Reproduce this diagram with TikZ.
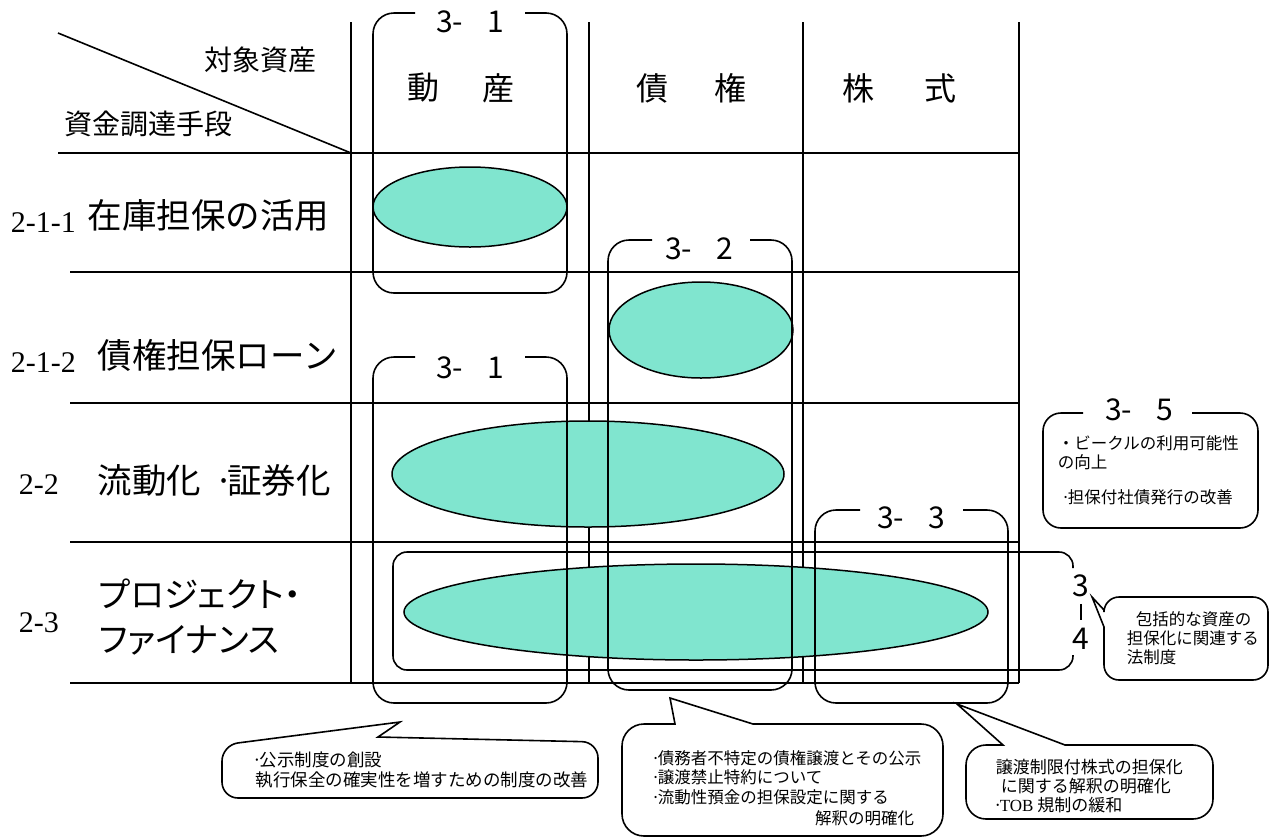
\documentclass[tikz,border=0pt]{standalone}
\usepackage{fontspec}
\setmainfont{Noto Sans CJK JP}
\newfontfamily\tms{Liberation Serif}
\newfontfamily\palt[RawFeature=+palt]{Noto Sans CJK JP}
\usetikzlibrary{shapes.geometric,calc}
\definecolor{tealfill}{RGB}{128,229,207}
\newcommand\bdot{\hbox to 4pt{\hss·\hss}}
\newcommand\tlab[2]{#1-\hspace{24pt}#2}
\begin{document}
\begin{tikzpicture}[x=1pt,y=-1pt,line width=1.6pt,
  gridline/.style={line width=1.6pt},
  blob/.style={ellipse,draw,fill=tealfill,inner sep=0pt,line width=1.5pt},
  brk/.style={rounded corners=21pt,line width=1.6pt},
  lbl/.style={font=\fontsize{30}{32}\selectfont,inner sep=0pt},
  rowlab/.style={font=\fontsize{34.5}{36}\selectfont,anchor=west,inner sep=0pt},
  numlab/.style={font=\tms\fontsize{30}{32}\selectfont,anchor=west,inner sep=0pt},
  colhead/.style={font=\fontsize{32}{34}\selectfont,inner sep=0pt},
  hdr/.style={font=\fontsize{28}{30}\selectfont,inner sep=0pt},
  note/.style={font=\fontsize{16.5}{20}\selectfont,anchor=west,inner sep=0pt},
  callout/.style={draw,fill=white,line width=1.6pt}
]
\useasboundingbox (0,0) rectangle (1273,839);

% grid
\draw[gridline] (58,33) -- (351,153);
\draw[gridline] (58,153) -- (1019,153);
\foreach \yy in {272,403,542,683} \draw[gridline] (70,\yy) -- (1019,\yy);
\foreach \xx in {351,589,803,1019} \draw[gridline] (\xx,22) -- (\xx,683);

% header texts
\node[hdr] (tgt) at (260,60) {対象資産};
\node[hdr] (mth) at (148,124) {資金調達手段};
\node[colhead] (c1a) at (423,88) {動};
\node[colhead] (c1b) at (498,88) {産};
\node[colhead] (c2a) at (652,88) {債};
\node[colhead] (c2b) at (730,88) {権};
\node[colhead] (c3a) at (858,88) {株};
\node[colhead] (c3b) at (940,88) {式};

% row labels
\node[numlab] (n211) at (10,223) {2-1-1};
\node[numlab] (n212) at (10,363) {2-1-2};
\node[numlab] (n22) at (18,485) {2-2};
\node[numlab] (n23) at (18,623) {2-3};
\node[rowlab] (r1) at (87,215) {在庫担保の活用};
\node[rowlab] (r2) at (97,355) {債権担保ローン};
\node[rowlab] (r3) at (97,480) {流動化\hspace{20pt}\hbox to 6pt{\hss·\hss}証券化};
\node[rowlab,font=\palt\fontsize{34.5}{36}\selectfont] (r4a) at (98,594) {プロジェクト・};
\node[rowlab,font=\palt\fontsize{34.5}{36}\selectfont] (r4b) at (98,640) {ファイナンス};

% ellipses
\node[blob,minimum width=194pt,minimum height=80pt] (e1) at (470,207) {};
\node[blob,minimum width=184pt,minimum height=96pt] (e2) at (701,330) {};
\node[blob,minimum width=392pt,minimum height=106pt] (e3) at (588,474) {};
\node[blob,minimum width=584pt,minimum height=96pt] (e4) at (696,612) {};

% brackets
\draw[brk] (415,13) -- (373,13) -- (373,293) -- (567,293) -- (567,13) -- (525,13);
\draw[brk] (652,240) -- (608,240) -- (608,690) -- (792,690) -- (792,240) -- (750,240);
\draw[brk] (415,357) -- (373,357) -- (373,703) -- (567,703) -- (567,357) -- (525,357);
\draw[brk] (860,510) -- (815,510) -- (815,703) -- (1008,703) -- (1008,510) -- (963,510);
\draw[rounded corners=14pt] (1073,568) -- (1073,552) -- (393,552) -- (393,670) -- (1073,670) -- (1073,655);
\draw[rounded corners=18pt] (1083,413) -- (1043,413) -- (1043,528) -- (1258,528) -- (1258,413) -- (1192,413);

\node[lbl] (l31a) at (470,22) {\tlab{3}{1}};
\node[lbl] (l32) at (699,249) {\tlab{3}{2}};
\node[lbl] (l31b) at (470,368) {\tlab{3}{1}};
\node[lbl] (l33) at (911,518) {\tlab{3}{3}};
\node[lbl] (l35) at (1139,410) {\tlab{3}{5}};
\node[lbl] (l3) at (1081,586) {3};
\node[lbl] (l4) at (1081,639) {4};
\draw[line width=1.2pt] ($(l3.south)+(0,6)$) -- ($(l4.north)+(0,-8)$);

% 3-5 notes
\node[note] (t35a) at (1057,443) {・ビークルの利用可能性};
\node[note] (t35b) at (1057,462) {の向上};
\node[note] (t35c) at (1063,497) {\bdot 担保付社債発行の改善};

% callout 3-4
\draw[callout] (1092,597) -- (1104,610) {[rounded corners=15pt] -- (1104,597) -- (1268,597) -- (1268,680) -- (1104,680)} -- (1104,627) -- cycle;
\node[note] (t34a) at (1135,619) {包括的な資産の};
\node[note] (t34b) at (1126,638) {担保化に関連する};
\node[note] (t34c) at (1126,657) {法制度};

% bottom callouts
\draw[callout] (400,722) -- (378,737) {[rounded corners=16pt] -- (598,742) -- (598,798) -- (222,798) -- (222,745)} -- cycle;
\node[note,font=\fontsize{17.5}{20}\selectfont] (b1a) at (255,760) {\bdot 公示制度の創設};
\node[note,font=\fontsize{17.5}{20}\selectfont] (b1b) at (255,780) {執行保全の確実性を増すための制度の改善};

\draw[callout] (670,698) -- (753,724) {[rounded corners=22pt] -- (943,724) -- (943,836) -- (622,836) -- (622,724)} -- (675,724) -- cycle;
\node[note] (b2a) at (653,758) {\bdot 債務者不特定の債権譲渡とその公示};
\node[note] (b2b) at (653,777) {\bdot 譲渡禁止特約について};
\node[note] (b2c) at (653,797) {\bdot 流動性預金の担保設定に関する};
\node[note,anchor=east] (b2d) at (915,818) {解釈の明確化};

\draw[callout] (957,704) -- (1065,745) {[rounded corners=20pt] -- (1213,745) -- (1213,819) -- (966,819) -- (966,745)} -- (1003,745) -- cycle;
\node[note,font=\fontsize{17}{20}\selectfont] (b3a) at (995,767) {譲渡制限付株式の担保化};
\node[note,font=\fontsize{17}{20}\selectfont] (b3b) at (1000,786) {に関する解釈の明確化};
\node[note,font=\fontsize{17}{20}\selectfont] (b3c) at (995,805) {\bdot{\tms TOB} 規制の緩和};
\end{tikzpicture}
\end{document}
